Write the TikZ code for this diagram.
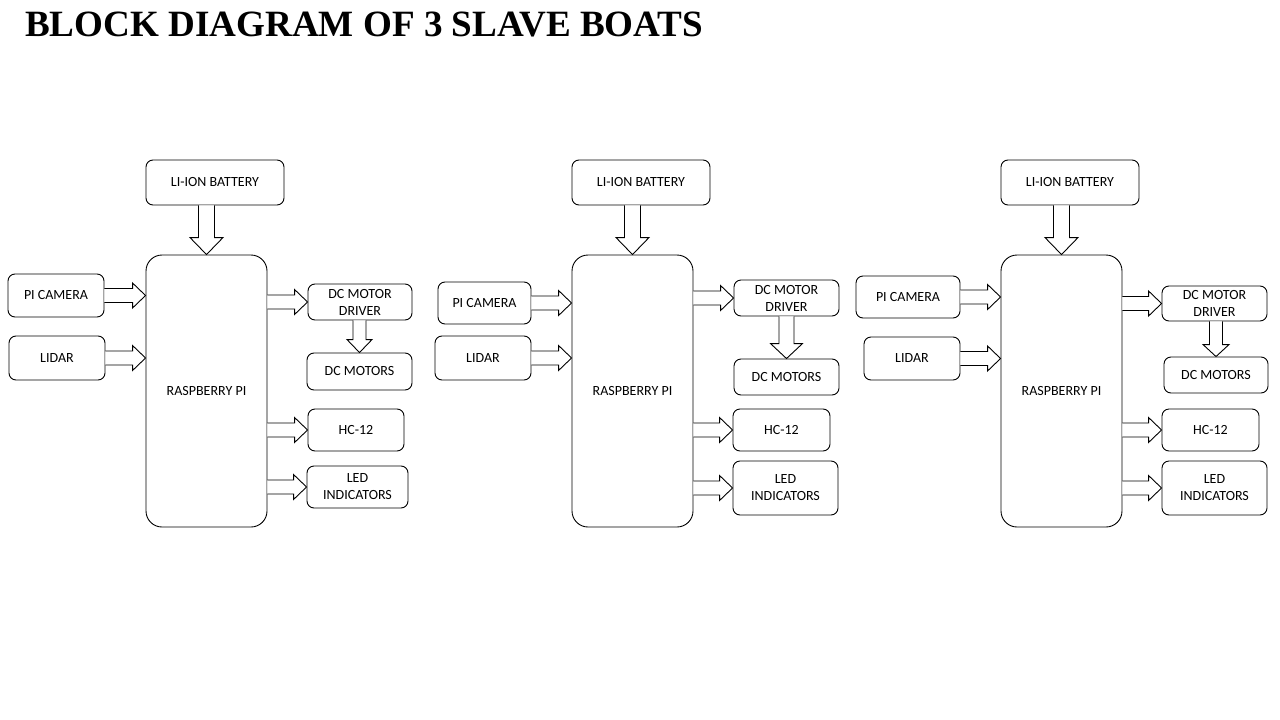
\documentclass[tikz,border=0pt]{standalone}
\usepackage{fontspec}
\setmainfont{Carlito}
\newfontfamily\titlefont{Liberation Serif}
\usetikzlibrary{calc}
\tikzset{
  box/.style={draw=black, line width=0.9pt, rounded corners=7pt, inner sep=0pt,
    align=center, font=\fontsize{14}{17}\selectfont},
  bigbox/.style={box, rounded corners=16pt},
  barr/.style={draw=black, fill=white, line width=0.9pt, line join=miter}
}
% box: name, x1, y1, x2, y2, text, style
\newcommand\mkbox[7]{\node[#7, minimum width={#4-#2}, minimum height={#5-#3}] (#1) at ({(#2+#4)/2},{(#3+#5)/2}) {#6};}
% horizontal block arrow: start point (x used), tip point
\newcommand\rarr[2]{\draw[barr] let \p1=(#1), \p2=(#2) in
  (\x1,\y2+7pt) -- (\x2-13pt,\y2+7pt) -- (\x2-13pt,\y2+12.5pt) -- (\x2,\y2)
  -- (\x2-13pt,\y2-12.5pt) -- (\x2-13pt,\y2-7pt) -- (\x1,\y2-7pt);}
% vertical block arrow: start point (y used), tip point; shaft half, head half, head length
\newcommand\darr[5]{\draw[barr] let \p1=(#1), \p2=(#2) in
  (\x2-#3,\y1) -- (\x2-#3,\y2+#5) -- (\x2-#4,\y2+#5) -- (\x2,\y2)
  -- (\x2+#4,\y2+#5) -- (\x2+#3,\y2+#5) -- (\x2+#3,\y1);}
\begin{document}
\begin{tikzpicture}[x=1pt, y=-1pt]
\useasboundingbox[fill=white] (0,0) rectangle (1280,720);
\node[anchor=base west, inner sep=0pt, font=\titlefont\bfseries\fontsize{37.1}{40}\selectfont] (title) at (25,36) {BLOCK DIAGRAM OF 3 SLAVE BOATS};

% ---------- Boat 1 ----------
\mkbox{bat1}{146}{160}{284}{205}{LI-ION BATTERY}{box}
\mkbox{rpi1}{146}{255}{267}{527}{RASPBERRY PI}{bigbox}
\mkbox{cam1}{8}{274}{104}{317}{PI CAMERA}{box}
\mkbox{lid1}{9}{336}{105}{380}{LIDAR}{box}
\mkbox{drv1}{308}{284}{412}{320}{DC MOTOR\\DRIVER}{box}
\mkbox{mot1}{307}{353}{412}{390}{DC MOTORS}{box}
\mkbox{hc1}{308}{409}{404}{451}{HC-12}{box}
\mkbox{led1}{307}{466}{408}{508}{LED\\INDICATORS}{box}
\darr{bat1.south}{rpi1.north}{8pt}{16.5pt}{17pt}
\rarr{cam1.east}{rpi1.west |- cam1.east}
\rarr{lid1.east}{rpi1.west |- lid1.east}
\rarr{rpi1.east |- drv1.west}{drv1.west}
\rarr{rpi1.east |- hc1.west}{hc1.west}
\rarr{rpi1.east |- led1.west}{led1.west}
\darr{drv1.south}{mot1.north}{6.5pt}{12.5pt}{13pt}

% ---------- Boat 2 ----------
\mkbox{bat2}{572}{160}{710}{205}{LI-ION BATTERY}{box}
\mkbox{rpi2}{572}{255}{693}{527}{RASPBERRY PI}{bigbox}
\mkbox{cam2}{438}{282}{531}{324}{PI CAMERA}{box}
\mkbox{lid2}{435}{336}{531}{380}{LIDAR}{box}
\mkbox{drv2}{734}{280}{839}{316}{DC MOTOR\\DRIVER}{box}
\mkbox{mot2}{734}{359}{839}{395}{DC MOTORS}{box}
\mkbox{hc2}{733}{409}{830}{451}{HC-12}{box}
\mkbox{led2}{733}{461}{838}{515}{LED\\INDICATORS}{box}
\darr{bat2.south}{rpi2.north}{8pt}{16.5pt}{17pt}
\rarr{cam2.east}{rpi2.west |- cam2.east}
\rarr{lid2.east}{rpi2.west |- lid2.east}
\rarr{rpi2.east |- drv2.west}{drv2.west}
\rarr{rpi2.east |- hc2.west}{hc2.west}
\rarr{rpi2.east |- led2.west}{led2.west}
\darr{drv2.south}{mot2.north}{7.5pt}{16pt}{15pt}

% ---------- Boat 3 ----------
\mkbox{bat3}{1001}{160}{1139}{205}{LI-ION BATTERY}{box}
\mkbox{rpi3}{1001}{255}{1122}{527}{RASPBERRY PI}{bigbox}
\mkbox{cam3}{856}{276}{960}{318}{PI CAMERA}{box}
\mkbox{lid3}{864}{337}{960}{380}{LIDAR}{box}
\mkbox{drv3}{1162}{286}{1267}{321}{DC MOTOR\\DRIVER}{box}
\mkbox{mot3}{1164}{357}{1268}{393}{DC MOTORS}{box}
\mkbox{hc3}{1162}{409}{1259}{451}{HC-12}{box}
\mkbox{led3}{1162}{461}{1267}{515}{LED\\INDICATORS}{box}
\darr{bat3.south}{rpi3.north}{8pt}{16.5pt}{17pt}
\rarr{cam3.east}{rpi3.west |- cam3.east}
\rarr{lid3.east}{rpi3.west |- lid3.east}
\rarr{rpi3.east |- drv3.west}{drv3.west}
\rarr{rpi3.east |- hc3.west}{hc3.west}
\rarr{rpi3.east |- led3.west}{led3.west}
\darr{drv3.south}{mot3.north}{6.5pt}{13pt}{12pt}
\end{tikzpicture}
\end{document}
